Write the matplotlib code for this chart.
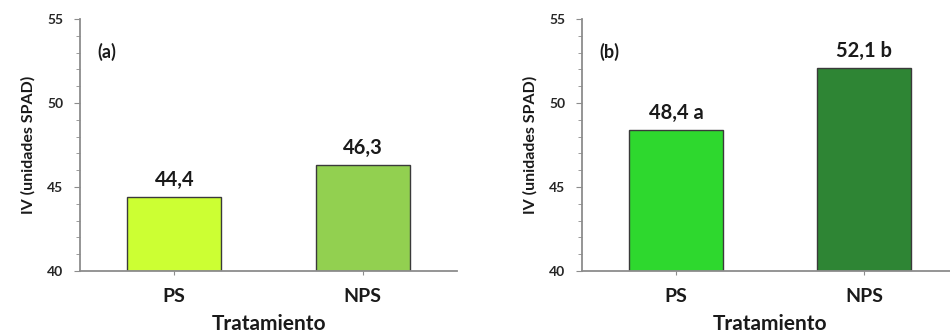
import numpy as np
from matplotlib import pyplot as plt
from matplotlib.ticker import MultipleLocator

plt.rcParams['font.family'] = ['Lato', 'DejaVu Sans']
plt.rcParams['font.weight'] = 'bold'

categorias = ['PS', 'NPS']
valores_a = [44.4, 46.3]
valores_b = [48.4, 52.1]
etiquetas_a = ['44,4', '46,3']
etiquetas_b = ['48,4 a', '52,1 b']
colores_a = ['#CCFF33', '#92D050']
colores_b = ['#2ED82E', '#2E8534']
paneles = ['(a)', '(b)']

fig = plt.figure(figsize=(9.5, 3.36), dpi=100)
ax_a = fig.add_axes([0.0842, 0.1935, 0.397, 0.75])
ax_b = fig.add_axes([0.6126, 0.1935, 0.396, 0.75])

gris = '#8c8c8c'
texto = '#1a1a1a'
for ax, vals, labs, cols, pan in [(ax_a, valores_a, etiquetas_a, colores_a, paneles[0]),
                                  (ax_b, valores_b, etiquetas_b, colores_b, paneles[1])]:
    x = np.arange(len(categorias))
    ax.bar(x, np.array(vals) - 40, bottom=40, width=0.5, color=cols,
           edgecolor='#3a3a3a', linewidth=1)
    for xi, v, t in zip(x, vals, labs):
        ax.annotate(t, (xi, v), xytext=(0, 5), textcoords='offset points',
                    ha='center', va='bottom', fontsize=14.5, fontweight='bold', color=texto)
    ax.set_xlim(-0.5, 1.5)
    ax.set_ylim(40, 55)
    ax.set_xticks(x)
    ax.set_xticklabels(categorias, fontsize=14, fontweight='bold', color=texto)
    ax.set_yticks([40, 45, 50, 55])
    ax.yaxis.set_minor_locator(MultipleLocator(1))
    ax.tick_params(axis='y', which='major', labelsize=10, labelcolor='#262626',
                   length=4, color=gris, direction='out', pad=8)
    ax.tick_params(axis='y', which='minor', length=3, color=gris, direction='out')
    ax.tick_params(axis='x', length=3, color=gris, direction='out', pad=9)
    for s in ['top', 'right']:
        ax.spines[s].set_visible(False)
    for s in ['left', 'bottom']:
        ax.spines[s].set_color(gris)
        ax.spines[s].set_linewidth(1.3)
    ax.set_ylabel('IV (unidades SPAD)', fontsize=11.5, fontweight='bold', color=texto, labelpad=8)
    ax.set_xlabel('Tratamiento', fontsize=15, fontweight='bold', color=texto, labelpad=7)
    ax.text(0.045, 0.87, pan, transform=ax.transAxes, fontsize=13, fontweight='bold',
            color=texto, va='center')

fig.savefig('out.png', dpi=100)
